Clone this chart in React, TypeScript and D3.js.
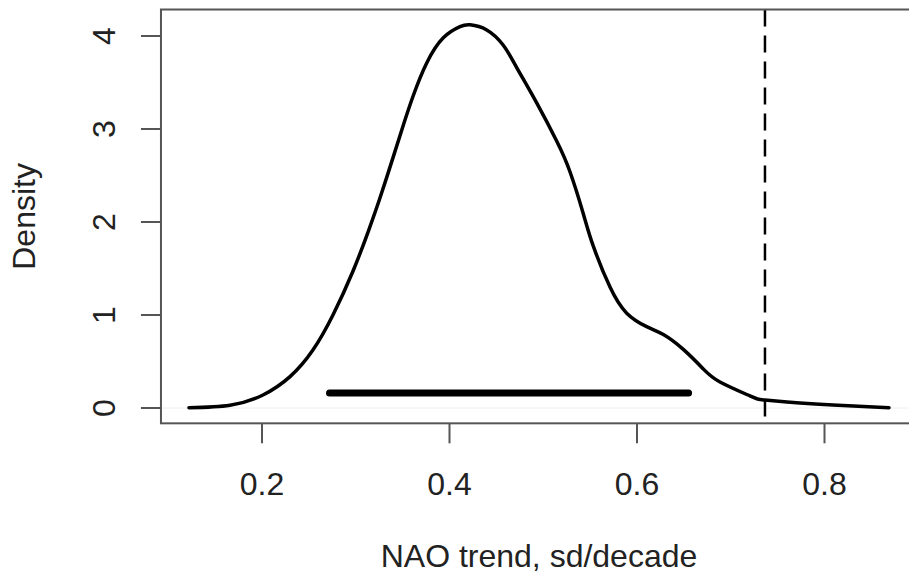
import React from "react";
import * as d3 from "d3";

const curveX = [0.1221, 0.1659, 0.201, 0.2299, 0.2541, 0.2757, 0.297, 0.3134, 0.3259, 0.34, 0.3507, 0.3614, 0.3757, 0.3934, 0.4112, 0.4219, 0.4397, 0.4574, 0.4717, 0.493, 0.5143, 0.5285, 0.5424, 0.5534, 0.5712, 0.589, 0.6103, 0.6281, 0.6494, 0.6707, 0.6885, 0.7205, 0.7365, 0.7739, 0.809, 0.8688];
const curveY = [0.003, 0.03, 0.14, 0.337, 0.62, 1.0, 1.47, 1.9, 2.26, 2.7, 3.04, 3.36, 3.71, 3.98, 4.1, 4.12, 4.065, 3.9, 3.66, 3.28, 2.87, 2.54, 2.1, 1.74, 1.3, 1.02, 0.875, 0.79, 0.63, 0.42, 0.28, 0.13, 0.086, 0.054, 0.032, 0.003];
const intervalX = [0.272, 0.655];
const intervalY = 0.16;
const observed = 0.7365;
const xTicks = [0.2, 0.4, 0.6, 0.8];
const yTicks = [0, 1, 2, 3, 4];
const xTitle = "NAO trend, sd/decade";
const yTitle = "Density";

export default function App() {
  const x = d3.scaleLinear().domain([0.2, 0.8]).range([262, 824.5]);
  const y = d3.scaleLinear().domain([0, 4]).range([408, 36]);
  const [xmin, xmax] = d3.extent(curveX) as [number, number];
  const ymax = d3.max(curveY) as number;
  const xpad = (xmax - xmin) * 0.04;
  const xl = x(xmin - xpad);
  const xr = x(xmax + xpad);
  const yt = y(ymax * 1.04);
  const yb = y(-ymax * 0.04);
  const pts = curveX.map((v, i) => [v, curveY[i]] as [number, number]);
  const line = d3
    .line<[number, number]>()
    .x((d) => x(d[0]))
    .y((d) => y(d[1]))
    .curve(d3.curveNatural);
  const font = "'Liberation Sans', Arial, Helvetica, sans-serif";
  const axisCol = "#555";
  return (
    <svg
      width={909}
      height={573}
      style={{ position: "absolute", left: 0, top: 0, background: "#fff" }}
      fontFamily={font}
    >
      <rect x={0} y={0} width={909} height={573} fill="#fff" />
      <line x1={xl} x2={xr} y1={y(0)} y2={y(0)} stroke="#eee" strokeWidth={1} />
      <path d={line(pts) || ""} fill="none" stroke="#000" strokeWidth={3.5} strokeLinecap="round" strokeLinejoin="round" />
      <line
        x1={x(intervalX[0])}
        x2={x(intervalX[1])}
        y1={y(intervalY)}
        y2={y(intervalY)}
        stroke="#000"
        strokeWidth={7}
        strokeLinecap="round"
      />
      <line
        x1={x(observed)}
        x2={x(observed)}
        y1={yt}
        y2={yb}
        stroke="#000"
        strokeWidth={2.5}
        strokeDasharray="17 9"
      />
      <rect x={xl} y={yt} width={xr - xl} height={yb - yt} fill="none" stroke={axisCol} strokeWidth={2} />
      {xTicks.map((t) => (
        <g key={"xt" + t}>
          <line x1={x(t)} x2={x(t)} y1={yb} y2={yb + 20} stroke={axisCol} strokeWidth={2} />
          <text x={x(t)} y={495} textAnchor="middle" fontSize={32} fill="#222">
            {t.toFixed(1)}
          </text>
        </g>
      ))}
      {yTicks.map((t) => (
        <g key={"yt" + t}>
          <line x1={xl} x2={xl - 20} y1={y(t)} y2={y(t)} stroke={axisCol} strokeWidth={2} />
          <text
            x={115}
            y={y(t)}
            textAnchor="middle"
            fontSize={32}
            fill="#222"
            transform={`rotate(-90, 115, ${y(t)})`}
          >
            {t}
          </text>
        </g>
      ))}
      <text x={(xl + xr) / 2} y={567} textAnchor="middle" fontSize={32} fill="#222">
        {xTitle}
      </text>
      <text
        x={35}
        y={(yt + yb) / 2}
        textAnchor="middle"
        fontSize={32}
        fill="#222"
        transform={`rotate(-90, 35, ${(yt + yb) / 2})`}
      >
        {yTitle}
      </text>
    </svg>
  );
}
